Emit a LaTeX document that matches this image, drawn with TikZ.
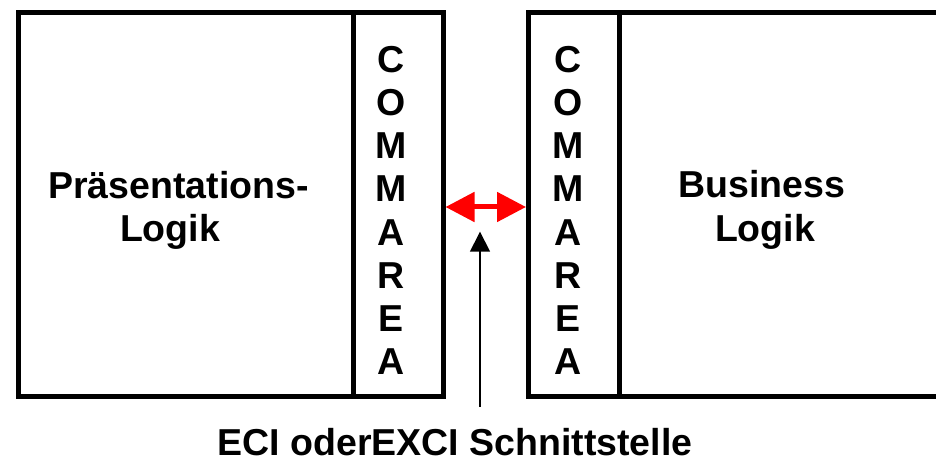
\documentclass[tikz,border=0pt]{standalone}
\usepackage{fontspec}
\setmainfont{Liberation Sans}
\usetikzlibrary{arrows.meta}
\begin{document}
\begin{tikzpicture}[x=1pt,y=-1pt,
  frame/.style={draw=black,line width=5pt,rectangle,inner sep=0pt,minimum height=384.2pt,anchor=north west},
  lbl/.style={anchor=base,inner sep=0pt,font=\fontsize{37.5}{43}\selectfont\bfseries},
  link/.style={draw=red,line width=5pt,{Triangle[length=29pt,width=29pt]}-{Triangle[length=29pt,width=29pt]}},
  pointer/.style={draw=black,line width=1.5pt,-{Triangle[length=20pt,width=20pt]}}]
\useasboundingbox (0,0) rectangle (936,462);
% boxes
\node[frame,minimum width=335pt] (pres) at (15.5,9.8) {};
\node[frame,minimum width=90pt] (lca) at (350.5,9.8) {};
\node[frame,minimum width=91pt] (rca) at (526,9.8) {};
\node[frame,minimum width=345pt] (bus) at (617,9.8) {};
% texts
\node[lbl] (pt1) at (178.5,199) {Präsentations-};
\node[lbl] (pt2) at (170,241.7) {Logik};
\node[lbl] (bt1) at (762,198) {Business};
\node[lbl] (bt2) at (765,241.7) {Logik};
\foreach \l [count=\i] in {C,O,M,M,A,R,E,A} {
  \node[lbl] (lc\i) at (391,73+43*\i-43) {\l};
  \node[lbl] (rc\i) at (568,73+43*\i-43) {\l};
}
\node[lbl] (eci) at (455,455) {ECI oderEXCI Schnittstelle};
% connectors
\draw[link] (lca.east |- 0,207) -- (rca.west |- 0,207);
\coordinate (pstart) at (480,406.5);
\coordinate (pend) at (480,231.7);
\draw[pointer] (pstart) -- (pend);
\end{tikzpicture}
\end{document}
